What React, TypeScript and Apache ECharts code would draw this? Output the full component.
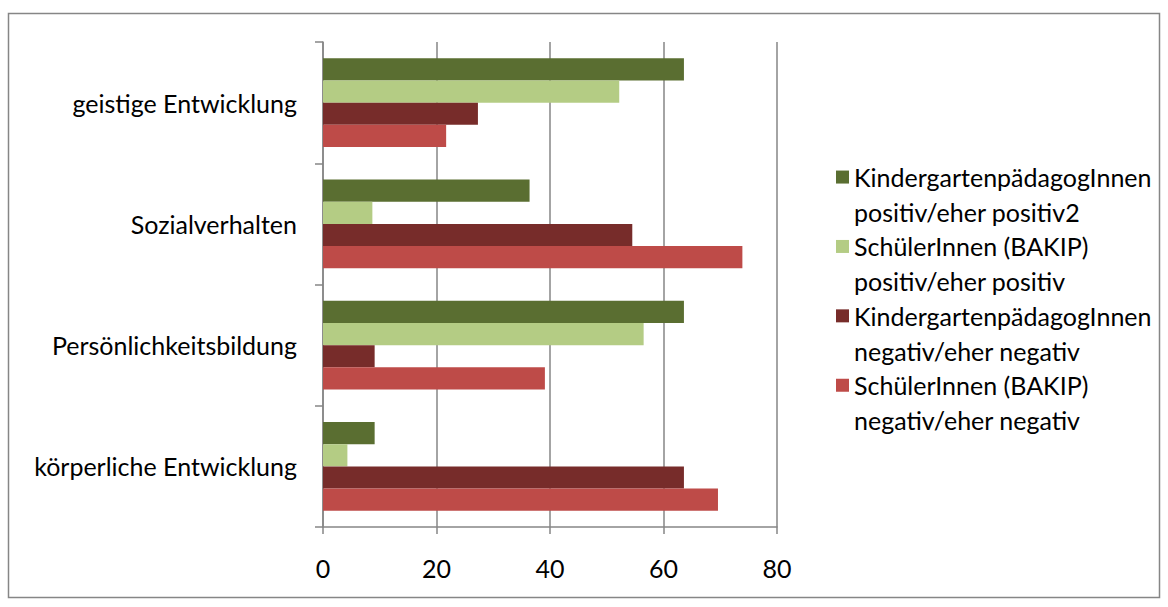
import React, { useEffect, useRef } from "react";
import * as echarts from "echarts";

const categories = ["geistige Entwicklung", "Sozialverhalten", "Persönlichkeitsbildung", "körperliche Entwicklung"];
const seriesNames = [
  "KindergartenpädagogInnen positiv/eher positiv2",
  "SchülerInnen (BAKIP) positiv/eher positiv",
  "KindergartenpädagogInnen negativ/eher negativ",
  "SchülerInnen (BAKIP) negativ/eher negativ",
];
const legendLines: Record<string, string> = {
  "KindergartenpädagogInnen positiv/eher positiv2": "KindergartenpädagogInnen\npositiv/eher positiv2",
  "SchülerInnen (BAKIP) positiv/eher positiv": "SchülerInnen (BAKIP)\npositiv/eher positiv",
  "KindergartenpädagogInnen negativ/eher negativ": "KindergartenpädagogInnen\nnegativ/eher negativ",
  "SchülerInnen (BAKIP) negativ/eher negativ": "SchülerInnen (BAKIP)\nnegativ/eher negativ",
};
const kgPositive = [63.6, 36.4, 63.6, 9.1];
const stPositive = [52.2, 8.7, 56.5, 4.3];
const kgNegative = [27.3, 54.5, 9.1, 63.6];
const stNegative = [21.7, 73.9, 39.1, 69.6];
const seriesValues = [kgPositive, stPositive, kgNegative, stNegative];
const colors = ["#5A6E31", "#B4CC84", "#772C2A", "#BE4B48"];
const xTicks = [0, 20, 40, 60, 80];

const FONT = "Lato, 'Liberation Sans', sans-serif";

export default function App() {
  const ref = useRef<HTMLDivElement>(null);
  useEffect(() => {
    if (!ref.current) return;
    const chart = echarts.init(ref.current, undefined, { renderer: "svg" });
    chart.setOption({
      animation: false,
      textStyle: { fontFamily: FONT },
      graphic: [
        {
          type: "rect",
          shape: { x: 8.5, y: 13.5, width: 1151, height: 584 },
          style: { fill: "none", stroke: "#868686", lineWidth: 1.5 },
        },
      ],
      grid: { left: 323, right: 391, top: 42, bottom: 80 },
      legend: {
        orient: "vertical",
        left: 836,
        top: 125,
        padding: 0,
        data: seriesNames,
        itemWidth: 13,
        itemHeight: 13,
        itemGap: -34.7,
        icon: "rect",
        formatter: (n: string) => " \n" + (legendLines[n] || n),
        textStyle: {
          fontFamily: FONT,
          fontSize: 25,
          color: "#000",
          lineHeight: 34.7,
        },
      },
      xAxis: {
        type: "value",
        min: xTicks[0],
        max: xTicks[xTicks.length - 1],
        interval: 20,
        axisLine: { show: true, lineStyle: { color: "#868686", width: 1.5 } },
        axisTick: { show: true, length: 7, lineStyle: { color: "#868686", width: 1.5 } },
        splitLine: { show: true, lineStyle: { color: "#868686", width: 1.5 } },
        axisLabel: { fontFamily: FONT, fontSize: 25, color: "#000", margin: 28 },
      },
      yAxis: {
        type: "category",
        data: categories,
        inverse: true,
        axisLine: { show: true, lineStyle: { color: "#868686", width: 1.5 } },
        axisTick: { show: true, length: 8, alignWithLabel: false, lineStyle: { color: "#868686", width: 1.5 } },
        axisLabel: { fontFamily: FONT, fontSize: 25, color: "#000", margin: 26 },
      },
      series: seriesNames.map((name, i) => ({
        name,
        type: "bar",
        data: seriesValues[i],
        barGap: "0%",
        barCategoryGap: "27%",
        itemStyle: { color: colors[i] },
      })),
    });
    return () => chart.dispose();
  }, []);
  return (
    <div
      ref={ref}
      style={{ position: "absolute", left: 0, top: 0, width: 1168, height: 607, background: "#fff" }}
    />
  );
}
